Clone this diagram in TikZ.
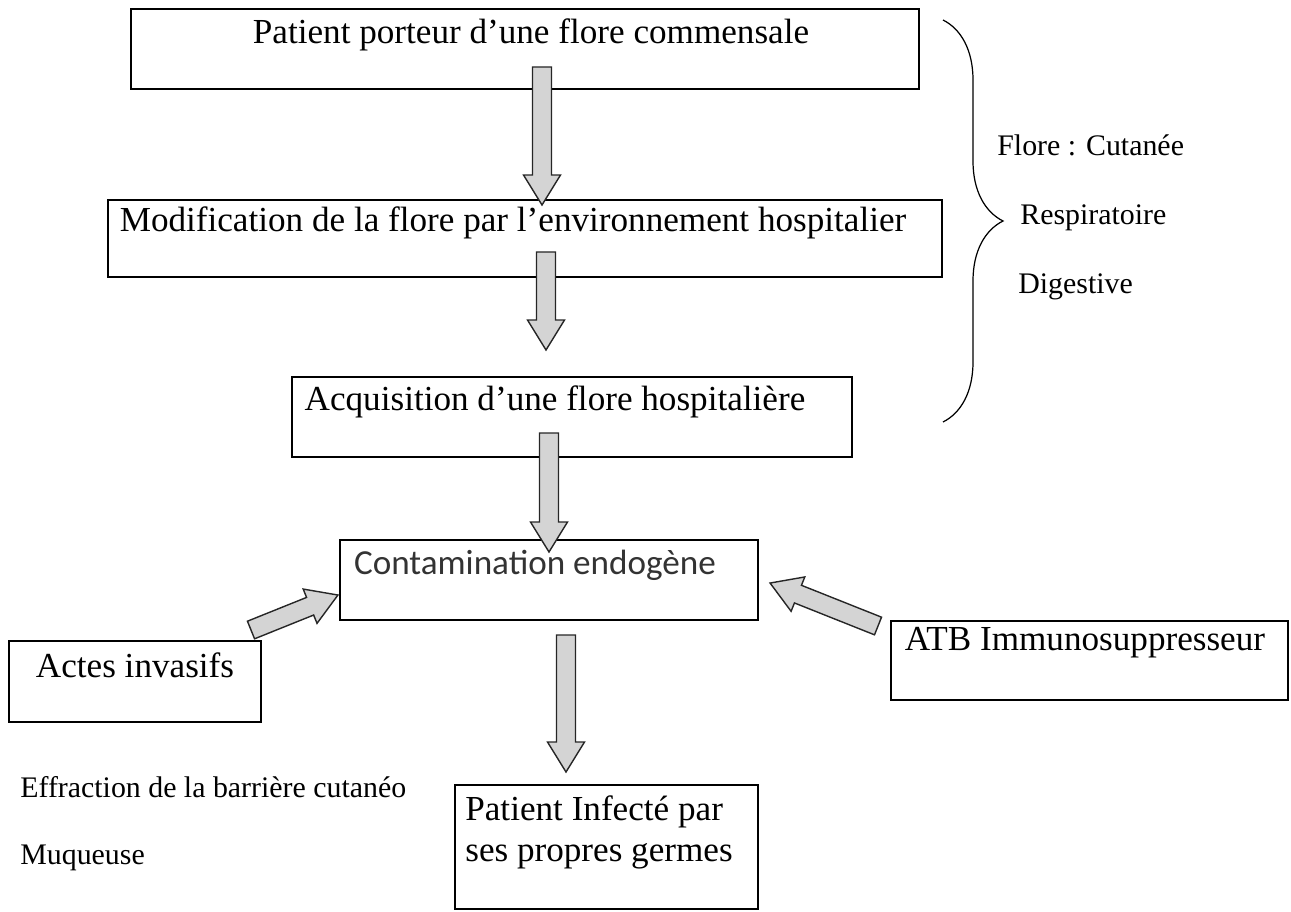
\documentclass[tikz,border=0pt]{standalone}
\usepackage{fontspec}
\setmainfont{Liberation Serif}
\newfontfamily\carlito{Carlito}
\usetikzlibrary{calc,decorations.pathreplacing}

% grosse fleche grise de #1 vers #2
\newcommand{\grossefleche}[2]{%
  \draw[fleche] let \p1=($(#2)-(#1)$), \n1={atan2(\y1,\x1)}, \n2={veclen(\x1,\y1)} in
    [shift={(#1)}, rotate=\n1] (0cm,-0.19cm) -- (\n2-0.6cm,-0.19cm) -- (\n2-0.6cm,-0.37cm)
    -- (\n2,0cm) -- (\n2-0.6cm,0.37cm) -- (\n2-0.6cm,0.19cm) -- (0cm,0.19cm) -- cycle;}

\begin{document}
\begin{tikzpicture}[x=0.02cm, y=-0.02cm,
    boite/.style={draw, line width=1pt, inner sep=0pt},
    texte/.style={inner sep=0pt, font=\fontsize{20}{24}\selectfont},
    note/.style={inner sep=0pt, anchor=west, font=\fontsize{17}{20}\selectfont},
    fleche/.style={draw=black!85, fill=black!17, line width=0.8pt}]
  \useasboundingbox (0,0) rectangle (1291,912);
  % boites
  \node[boite, minimum width=15.76cm, minimum height=1.6cm] (porteur) at (525,49) {};
  \node[boite, minimum width=16.68cm, minimum height=1.54cm] (modif) at (525,238.5) {};
  \node[boite, minimum width=11.2cm, minimum height=1.6cm] (acquis) at (572,417) {};
  \node[boite, minimum width=8.36cm, minimum height=1.6cm] (contam) at (549,580) {};
  \node[boite, minimum width=5.04cm, minimum height=1.62cm] (actes) at (135,681.5) {};
  \node[boite, minimum width=7.94cm, minimum height=1.58cm] (atb) at (1089.5,660.5) {};
  \node[boite, minimum width=6.06cm, minimum height=2.48cm] (infecte) at (606.5,847) {};
  % textes des boites
  \node[texte] (porteurT) at (531,35) {Patient porteur d’une flore commensale};
  \node[texte] (modifT) at (513,223) {Modification de la flore par l’environnement hospitalier};
  \node[texte] (acquisT) at (555,402) {Acquisition d’une flore hospitalière};
  \node[texte, font=\carlito\fontsize{20}{24}\selectfont, text=black!80] (contamT) at (535,565) {Contamination endogène};
  \node[texte] (actesT) at (135,665) {Actes invasifs};
  \node[texte] (atbT) at (1085,643) {ATB Immunosuppresseur};
  \node[texte, anchor=west, align=left, font=\fontsize{20}{23.3}\selectfont] (infecteT) at (465,832) {Patient Infecté par\\ses propres germes};
  % accolade et flores
  \coordinate (accHaut) at (943,20);
  \coordinate (accBas) at (943,422);
  \draw[decorate, decoration={brace, amplitude=1.2cm}, line width=0.7pt] (accHaut) -- (accBas);
  \node[note] (flore) at (997,145) {Flore : Cutanée};
  \node[note] (resp) at (1020,218) {Respiratoire};
  \node[note] (dig) at (1018,287) {Digestive};
  \node[note] (effraction) at (20,787) {Effraction de la barrière cutanéo};
  \node[note] (muqueuse) at (20,858) {Muqueuse};
  % fleches
  \coordinate (f1a) at (542,67);  \coordinate (f1b) at (542,205);
  \coordinate (f2a) at (546,252); \coordinate (f2b) at (546,350);
  \coordinate (f3a) at (549,433); \coordinate (f3b) at (549,552);
  \coordinate (f4a) at (566,635); \coordinate (f4b) at (566,772);
  \coordinate (f5a) at (251,630); \coordinate (f5b) at (338,595);
  \coordinate (f6a) at (878,626); \coordinate (f6b) at (770,583);
  \grossefleche{f1a}{f1b}
  \grossefleche{f2a}{f2b}
  \grossefleche{f3a}{f3b}
  \grossefleche{f4a}{f4b}
  \grossefleche{f5a}{f5b}
  \grossefleche{f6a}{f6b}
\end{tikzpicture}
\end{document}
